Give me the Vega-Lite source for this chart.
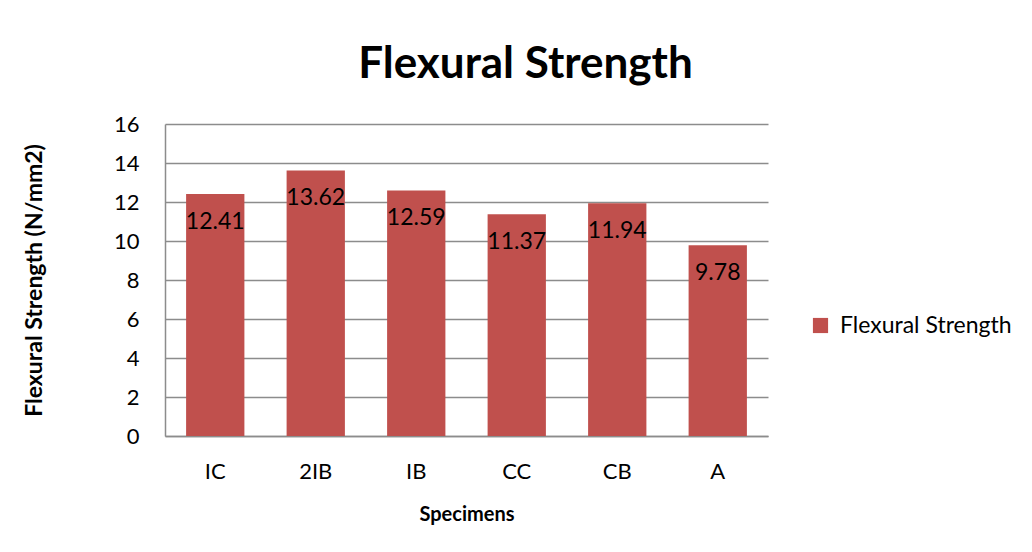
{
  "$schema": "https://vega.github.io/schema/vega-lite/v6.json",
  "width": 603,
  "height": 312,
  "autosize": "none",
  "padding": {"left": 165, "top": 124, "right": 264, "bottom": 116},
  "background": "white",
  "title": {
    "text": "Flexural Strength",
    "font": "Lato",
    "fontSize": 44,
    "fontWeight": "bold",
    "color": "#000000",
    "anchor": "middle",
    "dx": 59,
    "offset": 26
  },
  "data": {
    "values": [
      {"Specimen": "IC", "value": 12.41, "series": "Flexural Strength"},
      {"Specimen": "2IB", "value": 13.62, "series": "Flexural Strength"},
      {"Specimen": "IB", "value": 12.59, "series": "Flexural Strength"},
      {"Specimen": "CC", "value": 11.37, "series": "Flexural Strength"},
      {"Specimen": "CB", "value": 11.94, "series": "Flexural Strength"},
      {"Specimen": "A", "value": 9.78, "series": "Flexural Strength"}
    ]
  },
  "encoding": {
    "x": {
      "field": "Specimen",
      "type": "nominal",
      "sort": null,
      "scale": {"paddingInner": 0.42, "paddingOuter": 0.21},
      "axis": {
        "title": "Specimens",
        "labelAngle": 0,
        "ticks": false,
        "tickSize": 0,
        "labelPadding": 25,
        "titlePadding": 22,
        "titleFontSize": 20
      }
    },
    "y": {
      "field": "value",
      "type": "quantitative",
      "scale": {"domain": [0, 16]},
      "axis": {
        "title": "Flexural Strength (N/mm2)",
        "values": [0, 2, 4, 6, 8, 10, 12, 14, 16],
        "ticks": false,
        "tickSize": 0,
        "labelPadding": 26,
        "titlePadding": 67,
        "titleFontSize": 23
      }
    }
  },
  "layer": [
    {
      "mark": {"type": "bar", "color": "#C0504D"},
      "encoding": {
        "color": {
          "field": "series",
          "type": "nominal",
          "scale": {"range": ["#C0504D"]},
          "legend": {
            "title": null,
            "orient": "none",
            "legendX": 644,
            "legendY": 190,
            "symbolType": "square",
            "symbolSize": 230,
            "symbolStrokeWidth": 0,
            "labelFontSize": 23,
            "labelFont": "Lato",
            "labelColor": "#000000",
            "labelOffset": 8,
            "labelLimit": 400
          }
        }
      }
    },
    {
      "mark": {
        "type": "text",
        "baseline": "top",
        "align": "center",
        "dy": 17,
        "font": "Lato",
        "fontSize": 23,
        "color": "#000000"
      },
      "encoding": {
        "text": {"field": "value", "type": "quantitative", "format": ".2f"}
      }
    }
  ],
  "config": {
    "view": {"stroke": null},
    "axis": {
      "labelFont": "Lato",
      "labelFontSize": 22,
      "labelColor": "#000000",
      "titleFont": "Lato",
      "titleFontSize": 20,
      "titleFontWeight": "bold",
      "titleColor": "#000000",
      "domainColor": "#8c8c8c",
      "domainWidth": 1.5,
      "gridColor": "#8c8c8c",
      "gridWidth": 1.5,
      "gridOpacity": 1
    },
    "axisX": {"grid": false},
    "axisY": {"grid": true}
  }
}
